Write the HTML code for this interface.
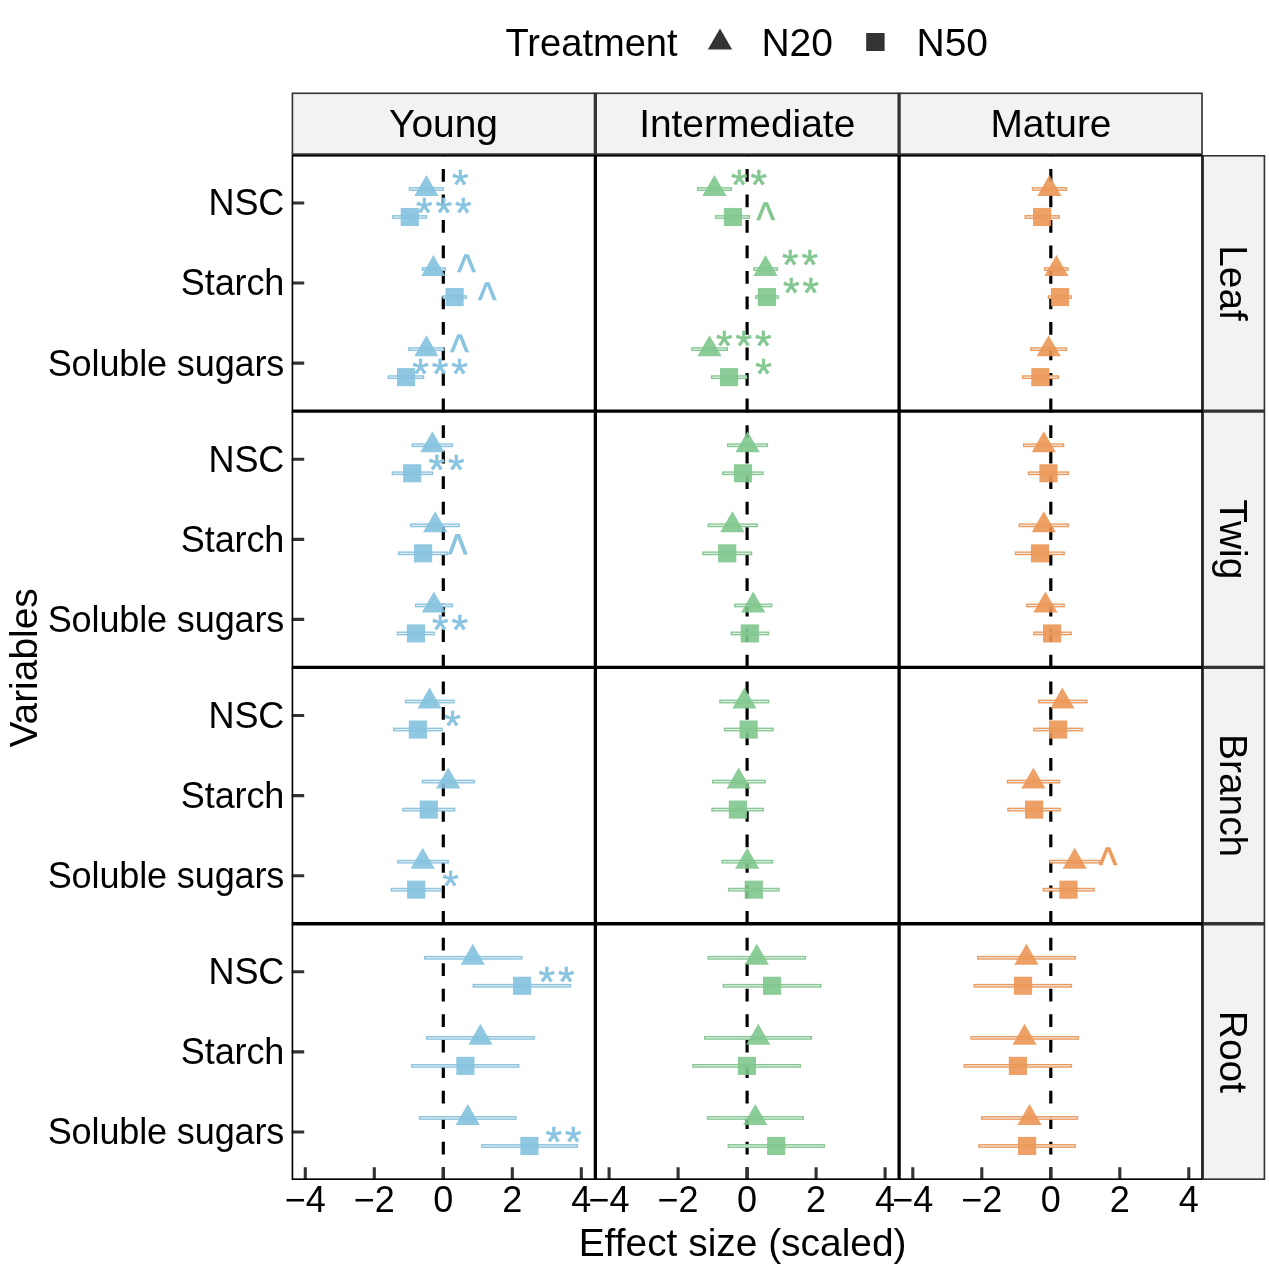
<!DOCTYPE html>
<html lang="en"><head><meta charset="utf-8"><title>Effect size (scaled) by variables</title>
<style>html,body{margin:0;padding:0;background:#fff}body{width:1269px;height:1269px;overflow:hidden}svg{display:block}text{font-family:'Liberation Sans', Arial, sans-serif;fill:#000}</style>
</head><body>
<svg width="1269" height="1269" viewBox="0 0 1269 1269">
<rect x="0" y="0" width="1269" height="1269" fill="#fff"/>
<g id="legend">
<text x="505.5" y="56.1" font-size="38.1">Treatment</text>
<path d="M720 28.4 l12.15 21 h-24.3 z" fill="#333"/>
<text x="761.4" y="56.1" font-size="39">N20</text>
<rect x="866.2" y="33" width="18.4" height="18" fill="#333"/>
<text x="916.5" y="56.1" font-size="39">N50</text>
</g>
<defs>
<clipPath id="stT"><rect x="291.6" y="92.45" width="911.25" height="62.48"/></clipPath>
<clipPath id="stR"><rect x="1202.3" y="154.93" width="62.95" height="1025.07"/></clipPath>
<clipPath id="pnl"><rect x="291.6" y="154.93" width="911.25" height="1025.07"/></clipPath>
</defs>
<g id="strips" fill="#f2f2f2" stroke="#333" stroke-width="3.3">
<g clip-path="url(#stT)">
<rect x="291.6" y="92.45" width="911.25" height="62.48"/>
<line x1="595.35" y1="92.45" x2="595.35" y2="154.93"/>
<line x1="899.1" y1="92.45" x2="899.1" y2="154.93"/>
</g>
<g clip-path="url(#stR)">
<rect x="1202.3" y="154.93" width="62.95" height="1025.07"/>
<line x1="1202.85" y1="411.2" x2="1265.25" y2="411.2"/>
<line x1="1202.85" y1="667.47" x2="1265.25" y2="667.47"/>
<line x1="1202.85" y1="923.73" x2="1265.25" y2="923.73"/>
</g>
</g>
<g id="striptext" font-size="38.9" text-anchor="middle">
<text x="443.48" y="137.4">Young</text>
<text x="747.23" y="137.4">Intermediate</text>
<text x="1050.97" y="137.4">Mature</text>
<text transform="translate(1219.8 283.06) rotate(90)" x="0" y="0">Leaf</text>
<text transform="translate(1219.8 539.34) rotate(90)" x="0" y="0">Twig</text>
<text transform="translate(1219.8 795.6) rotate(90)" x="0" y="0">Branch</text>
<text transform="translate(1219.8 1051.87) rotate(90)" x="0" y="0">Root</text>
</g>
<defs>
<clipPath id="cp00"><rect x="291.6" y="154.93" width="303.75" height="256.27"/></clipPath>
<clipPath id="cp01"><rect x="291.6" y="411.2" width="303.75" height="256.27"/></clipPath>
<clipPath id="cp02"><rect x="291.6" y="667.47" width="303.75" height="256.26"/></clipPath>
<clipPath id="cp03"><rect x="291.6" y="923.73" width="303.75" height="256.27"/></clipPath>
<clipPath id="cp10"><rect x="595.35" y="154.93" width="303.75" height="256.27"/></clipPath>
<clipPath id="cp11"><rect x="595.35" y="411.2" width="303.75" height="256.27"/></clipPath>
<clipPath id="cp12"><rect x="595.35" y="667.47" width="303.75" height="256.26"/></clipPath>
<clipPath id="cp13"><rect x="595.35" y="923.73" width="303.75" height="256.27"/></clipPath>
<clipPath id="cp20"><rect x="899.1" y="154.93" width="303.75" height="256.27"/></clipPath>
<clipPath id="cp21"><rect x="899.1" y="411.2" width="303.75" height="256.27"/></clipPath>
<clipPath id="cp22"><rect x="899.1" y="667.47" width="303.75" height="256.26"/></clipPath>
<clipPath id="cp23"><rect x="899.1" y="923.73" width="303.75" height="256.27"/></clipPath>
</defs>
<g clip-path="url(#cp00)">
<rect x="291.6" y="154.93" width="303.75" height="256.27" fill="#fff"/>
<line x1="443.3" y1="411.2" x2="443.3" y2="154.93" stroke="#000" stroke-width="3.2" stroke-dasharray="12.75 12.75"/>
<g fill="#eeeeee" stroke="#89c4e0" stroke-width="1.35">
<rect x="409.38" y="187.77" width="33.95" height="2.45"/>
<rect x="392.78" y="215.77" width="33.55" height="2.45"/>
<rect x="422.38" y="267.85" width="22.85" height="2.45"/>
<rect x="443.18" y="295.85" width="22.95" height="2.45"/>
<rect x="408.78" y="347.93" width="34.95" height="2.45"/>
<rect x="388.38" y="375.93" width="35.15" height="2.45"/>
</g>
<g fill="#84c2df" fill-opacity="0.9">
<path d="M426.4 174.99 l12.12 21 h-24.24 z"/>
<rect x="400.7" y="207.94" width="18.2" height="18.1"/>
<path d="M433.4 255.07 l12.12 21 h-24.24 z"/>
<rect x="445.5" y="288.02" width="18.2" height="18.1"/>
<path d="M426.4 335.15 l12.12 21 h-24.24 z"/>
<rect x="397" y="368.1" width="18.2" height="18.1"/>
</g>
<g text-anchor="middle" stroke-linejoin="miter">
<text x="460.3" y="199.39" font-size="42.5" style="fill:#89c4e0;stroke:#89c4e0;stroke-width:0.55">*</text>
<text x="424.3 443.8 463.3" y="227.39" font-size="42.5" style="fill:#89c4e0;stroke:#89c4e0;stroke-width:0.55">***</text>
<text transform="translate(466.6 288.12) scale(0.79 0.98)" font-size="50" style="fill:#89c4e0;stroke:#89c4e0;stroke-width:0.7">^</text>
<text transform="translate(487.3 316.12) scale(0.79 0.98)" font-size="50" style="fill:#89c4e0;stroke:#89c4e0;stroke-width:0.7">^</text>
<text transform="translate(459.4 368.2) scale(0.79 0.98)" font-size="50" style="fill:#89c4e0;stroke:#89c4e0;stroke-width:0.7">^</text>
<text x="420.5 440 459.5" y="387.55" font-size="42.5" style="fill:#89c4e0;stroke:#89c4e0;stroke-width:0.55">***</text>
</g>
<line x1="291.6" y1="363.15" x2="304.2" y2="363.15" stroke="#333" stroke-width="3.1"/>
<line x1="291.6" y1="283.07" x2="304.2" y2="283.07" stroke="#333" stroke-width="3.1"/>
<line x1="291.6" y1="202.99" x2="304.2" y2="202.99" stroke="#333" stroke-width="3.1"/>
</g>
<g clip-path="url(#cp01)">
<rect x="291.6" y="411.2" width="303.75" height="256.27" fill="#fff"/>
<line x1="443.3" y1="667.47" x2="443.3" y2="411.2" stroke="#000" stroke-width="3.2" stroke-dasharray="12.75 12.75"/>
<g fill="#eeeeee" stroke="#89c4e0" stroke-width="1.35">
<rect x="412.28" y="444.04" width="40.25" height="2.45"/>
<rect x="392.38" y="472.04" width="40.05" height="2.45"/>
<rect x="410.78" y="524.12" width="48.45" height="2.45"/>
<rect x="398.68" y="552.12" width="48.55" height="2.45"/>
<rect x="415.68" y="604.2" width="36.85" height="2.45"/>
<rect x="397.38" y="632.2" width="36.85" height="2.45"/>
</g>
<g fill="#84c2df" fill-opacity="0.9">
<path d="M432.4 431.26 l12.12 21 h-24.24 z"/>
<rect x="403.1" y="464.21" width="18.2" height="18.1"/>
<path d="M435.2 511.34 l12.12 21 h-24.24 z"/>
<rect x="414" y="544.29" width="18.2" height="18.1"/>
<path d="M433.9 591.42 l12.12 21 h-24.24 z"/>
<rect x="406.9" y="624.37" width="18.2" height="18.1"/>
</g>
<g text-anchor="middle" stroke-linejoin="miter">
<text x="436.65 456.15" y="483.66" font-size="42.5" style="fill:#89c4e0;stroke:#89c4e0;stroke-width:0.55">**</text>
<text transform="translate(457.8 571.59) scale(0.83 1.08)" font-size="50" style="fill:#89c4e0;stroke:#89c4e0;stroke-width:0.7">^</text>
<text x="440.35 459.85" y="643.82" font-size="42.5" style="fill:#89c4e0;stroke:#89c4e0;stroke-width:0.55">**</text>
</g>
<line x1="291.6" y1="619.42" x2="304.2" y2="619.42" stroke="#333" stroke-width="3.1"/>
<line x1="291.6" y1="539.34" x2="304.2" y2="539.34" stroke="#333" stroke-width="3.1"/>
<line x1="291.6" y1="459.26" x2="304.2" y2="459.26" stroke="#333" stroke-width="3.1"/>
</g>
<g clip-path="url(#cp02)">
<rect x="291.6" y="667.47" width="303.75" height="256.26" fill="#fff"/>
<line x1="443.3" y1="923.73" x2="443.3" y2="667.47" stroke="#000" stroke-width="3.2" stroke-dasharray="12.75 12.75"/>
<g fill="#eeeeee" stroke="#89c4e0" stroke-width="1.35">
<rect x="405.58" y="700.3" width="48.45" height="2.45"/>
<rect x="393.68" y="728.3" width="48.55" height="2.45"/>
<rect x="422.38" y="780.38" width="51.85" height="2.45"/>
<rect x="402.88" y="808.38" width="51.85" height="2.45"/>
<rect x="397.78" y="860.46" width="50.35" height="2.45"/>
<rect x="391.28" y="888.46" width="49.95" height="2.45"/>
</g>
<g fill="#84c2df" fill-opacity="0.9">
<path d="M429.6 687.52 l12.12 21 h-24.24 z"/>
<rect x="408.8" y="720.47" width="18.2" height="18.1"/>
<path d="M448.2 767.6 l12.12 21 h-24.24 z"/>
<rect x="419.7" y="800.55" width="18.2" height="18.1"/>
<path d="M422.7 847.68 l12.12 21 h-24.24 z"/>
<rect x="407.1" y="880.63" width="18.2" height="18.1"/>
</g>
<g text-anchor="middle" stroke-linejoin="miter">
<text x="452.4" y="739.92" font-size="42.5" style="fill:#89c4e0;stroke:#89c4e0;stroke-width:0.55">*</text>
<text x="450.4" y="900.08" font-size="42.5" style="fill:#89c4e0;stroke:#89c4e0;stroke-width:0.55">*</text>
</g>
<line x1="291.6" y1="875.68" x2="304.2" y2="875.68" stroke="#333" stroke-width="3.1"/>
<line x1="291.6" y1="795.6" x2="304.2" y2="795.6" stroke="#333" stroke-width="3.1"/>
<line x1="291.6" y1="715.52" x2="304.2" y2="715.52" stroke="#333" stroke-width="3.1"/>
</g>
<g clip-path="url(#cp03)">
<rect x="291.6" y="923.73" width="303.75" height="256.27" fill="#fff"/>
<line x1="443.3" y1="1180" x2="443.3" y2="923.73" stroke="#000" stroke-width="3.2" stroke-dasharray="12.75 12.75"/>
<g fill="#eeeeee" stroke="#89c4e0" stroke-width="1.35">
<rect x="424.68" y="956.57" width="97.15" height="2.45"/>
<rect x="473.18" y="984.57" width="97.15" height="2.45"/>
<rect x="426.68" y="1036.65" width="107.45" height="2.45"/>
<rect x="411.68" y="1064.65" width="107.15" height="2.45"/>
<rect x="419.58" y="1116.73" width="96.35" height="2.45"/>
<rect x="481.58" y="1144.73" width="95.85" height="2.45"/>
</g>
<g fill="#84c2df" fill-opacity="0.9">
<path d="M472.8 943.79 l12.12 21 h-24.24 z"/>
<rect x="513" y="976.74" width="18.2" height="18.1"/>
<path d="M480.4 1023.87 l12.12 21 h-24.24 z"/>
<rect x="456.3" y="1056.82" width="18.2" height="18.1"/>
<path d="M467.8 1103.95 l12.12 21 h-24.24 z"/>
<rect x="520.3" y="1136.9" width="18.2" height="18.1"/>
</g>
<g text-anchor="middle" stroke-linejoin="miter">
<text x="546.65 566.15" y="996.19" font-size="42.5" style="fill:#89c4e0;stroke:#89c4e0;stroke-width:0.55">**</text>
<text x="553.65 573.15" y="1156.35" font-size="42.5" style="fill:#89c4e0;stroke:#89c4e0;stroke-width:0.55">**</text>
</g>
<line x1="305.3" y1="1180" x2="305.3" y2="1167.3" stroke="#333" stroke-width="3.1"/>
<line x1="374.3" y1="1180" x2="374.3" y2="1167.3" stroke="#333" stroke-width="3.1"/>
<line x1="443.3" y1="1180" x2="443.3" y2="1167.3" stroke="#333" stroke-width="3.1"/>
<line x1="512.3" y1="1180" x2="512.3" y2="1167.3" stroke="#333" stroke-width="3.1"/>
<line x1="581.3" y1="1180" x2="581.3" y2="1167.3" stroke="#333" stroke-width="3.1"/>
<line x1="291.6" y1="1131.95" x2="304.2" y2="1131.95" stroke="#333" stroke-width="3.1"/>
<line x1="291.6" y1="1051.87" x2="304.2" y2="1051.87" stroke="#333" stroke-width="3.1"/>
<line x1="291.6" y1="971.79" x2="304.2" y2="971.79" stroke="#333" stroke-width="3.1"/>
</g>
<g clip-path="url(#cp10)">
<rect x="595.35" y="154.93" width="303.75" height="256.27" fill="#fff"/>
<line x1="747.1" y1="411.2" x2="747.1" y2="154.93" stroke="#000" stroke-width="3.2" stroke-dasharray="12.75 12.75"/>
<g fill="#eeeeee" stroke="#84c891" stroke-width="1.35">
<rect x="697.58" y="187.77" width="33.75" height="2.45"/>
<rect x="715.68" y="215.77" width="33.75" height="2.45"/>
<rect x="753.88" y="267.85" width="23.55" height="2.45"/>
<rect x="755.78" y="295.85" width="22.35" height="2.45"/>
<rect x="691.88" y="347.93" width="35.45" height="2.45"/>
<rect x="711.68" y="375.93" width="34.85" height="2.45"/>
</g>
<g fill="#7fc68d" fill-opacity="0.9">
<path d="M714.4 174.99 l12.12 21 h-24.24 z"/>
<rect x="723.8" y="207.94" width="18.2" height="18.1"/>
<path d="M765.5 255.07 l12.12 21 h-24.24 z"/>
<rect x="757.8" y="288.02" width="18.2" height="18.1"/>
<path d="M709.5 335.15 l12.12 21 h-24.24 z"/>
<rect x="720" y="368.1" width="18.2" height="18.1"/>
</g>
<g text-anchor="middle" stroke-linejoin="miter">
<text x="739.15 758.65" y="199.39" font-size="42.5" style="fill:#84c891;stroke:#84c891;stroke-width:0.55">**</text>
<text transform="translate(765.7 236.04) scale(0.79 0.98)" font-size="50" style="fill:#84c891;stroke:#84c891;stroke-width:0.7">^</text>
<text x="790.35 809.85" y="279.47" font-size="42.5" style="fill:#84c891;stroke:#84c891;stroke-width:0.55">**</text>
<text x="791.25 810.75" y="307.47" font-size="42.5" style="fill:#84c891;stroke:#84c891;stroke-width:0.55">**</text>
<text x="724.3 743.8 763.3" y="359.55" font-size="42.5" style="fill:#84c891;stroke:#84c891;stroke-width:0.55">***</text>
<text x="763.5" y="387.55" font-size="42.5" style="fill:#84c891;stroke:#84c891;stroke-width:0.55">*</text>
</g>
</g>
<g clip-path="url(#cp11)">
<rect x="595.35" y="411.2" width="303.75" height="256.27" fill="#fff"/>
<line x1="747.1" y1="667.47" x2="747.1" y2="411.2" stroke="#000" stroke-width="3.2" stroke-dasharray="12.75 12.75"/>
<g fill="#eeeeee" stroke="#84c891" stroke-width="1.35">
<rect x="727.68" y="444.04" width="39.75" height="2.45"/>
<rect x="722.78" y="472.04" width="40.15" height="2.45"/>
<rect x="708.28" y="524.12" width="48.95" height="2.45"/>
<rect x="702.88" y="552.12" width="48.75" height="2.45"/>
<rect x="734.78" y="604.2" width="36.95" height="2.45"/>
<rect x="731.18" y="632.2" width="37.15" height="2.45"/>
</g>
<g fill="#7fc68d" fill-opacity="0.9">
<path d="M747.6 431.26 l12.12 21 h-24.24 z"/>
<rect x="733.9" y="464.21" width="18.2" height="18.1"/>
<path d="M732.4 511.34 l12.12 21 h-24.24 z"/>
<rect x="718.1" y="544.29" width="18.2" height="18.1"/>
<path d="M753.2 591.42 l12.12 21 h-24.24 z"/>
<rect x="740.7" y="624.37" width="18.2" height="18.1"/>
</g>
</g>
<g clip-path="url(#cp12)">
<rect x="595.35" y="667.47" width="303.75" height="256.26" fill="#fff"/>
<line x1="747.1" y1="923.73" x2="747.1" y2="667.47" stroke="#000" stroke-width="3.2" stroke-dasharray="12.75 12.75"/>
<g fill="#eeeeee" stroke="#84c891" stroke-width="1.35">
<rect x="719.88" y="700.3" width="48.65" height="2.45"/>
<rect x="724.48" y="728.3" width="48.55" height="2.45"/>
<rect x="712.68" y="780.38" width="52.45" height="2.45"/>
<rect x="711.88" y="808.38" width="51.35" height="2.45"/>
<rect x="722.18" y="860.46" width="50.35" height="2.45"/>
<rect x="728.68" y="888.46" width="50.35" height="2.45"/>
</g>
<g fill="#7fc68d" fill-opacity="0.9">
<path d="M744.4 687.52 l12.12 21 h-24.24 z"/>
<rect x="739.5" y="720.47" width="18.2" height="18.1"/>
<path d="M738.7 767.6 l12.12 21 h-24.24 z"/>
<rect x="728.8" y="800.55" width="18.2" height="18.1"/>
<path d="M747.2 847.68 l12.12 21 h-24.24 z"/>
<rect x="744.7" y="880.63" width="18.2" height="18.1"/>
</g>
</g>
<g clip-path="url(#cp13)">
<rect x="595.35" y="923.73" width="303.75" height="256.27" fill="#fff"/>
<line x1="747.1" y1="1180" x2="747.1" y2="923.73" stroke="#000" stroke-width="3.2" stroke-dasharray="12.75 12.75"/>
<g fill="#eeeeee" stroke="#84c891" stroke-width="1.35">
<rect x="708.28" y="956.57" width="97.15" height="2.45"/>
<rect x="723.28" y="984.57" width="97.55" height="2.45"/>
<rect x="704.68" y="1036.65" width="106.75" height="2.45"/>
<rect x="692.98" y="1064.65" width="107.35" height="2.45"/>
<rect x="707.48" y="1116.73" width="95.85" height="2.45"/>
<rect x="728.28" y="1144.73" width="96.05" height="2.45"/>
</g>
<g fill="#7fc68d" fill-opacity="0.9">
<path d="M756.8 943.79 l12.12 21 h-24.24 z"/>
<rect x="763" y="976.74" width="18.2" height="18.1"/>
<path d="M758.3 1023.87 l12.12 21 h-24.24 z"/>
<rect x="737.8" y="1056.82" width="18.2" height="18.1"/>
<path d="M755.3 1103.95 l12.12 21 h-24.24 z"/>
<rect x="767.1" y="1136.9" width="18.2" height="18.1"/>
</g>
<line x1="609.1" y1="1180" x2="609.1" y2="1167.3" stroke="#333" stroke-width="3.1"/>
<line x1="678.1" y1="1180" x2="678.1" y2="1167.3" stroke="#333" stroke-width="3.1"/>
<line x1="747.1" y1="1180" x2="747.1" y2="1167.3" stroke="#333" stroke-width="3.1"/>
<line x1="816.1" y1="1180" x2="816.1" y2="1167.3" stroke="#333" stroke-width="3.1"/>
<line x1="885.1" y1="1180" x2="885.1" y2="1167.3" stroke="#333" stroke-width="3.1"/>
</g>
<g clip-path="url(#cp20)">
<rect x="899.1" y="154.93" width="303.75" height="256.27" fill="#fff"/>
<line x1="1050.8" y1="411.2" x2="1050.8" y2="154.93" stroke="#000" stroke-width="3.2" stroke-dasharray="12.75 12.75"/>
<g fill="#eeeeee" stroke="#ec9b5d" stroke-width="1.35">
<rect x="1032.48" y="187.77" width="33.95" height="2.45"/>
<rect x="1025.18" y="215.77" width="34.05" height="2.45"/>
<rect x="1044.68" y="267.85" width="23.25" height="2.45"/>
<rect x="1048.28" y="295.85" width="22.95" height="2.45"/>
<rect x="1030.88" y="347.93" width="35.55" height="2.45"/>
<rect x="1022.68" y="375.93" width="35.65" height="2.45"/>
</g>
<g fill="#eb9756" fill-opacity="0.9">
<path d="M1049.4 174.99 l12.12 21 h-24.24 z"/>
<rect x="1033" y="207.94" width="18.2" height="18.1"/>
<path d="M1056.4 255.07 l12.12 21 h-24.24 z"/>
<rect x="1050.9" y="288.02" width="18.2" height="18.1"/>
<path d="M1048.6 335.15 l12.12 21 h-24.24 z"/>
<rect x="1031.3" y="368.1" width="18.2" height="18.1"/>
</g>
</g>
<g clip-path="url(#cp21)">
<rect x="899.1" y="411.2" width="303.75" height="256.27" fill="#fff"/>
<line x1="1050.8" y1="667.47" x2="1050.8" y2="411.2" stroke="#000" stroke-width="3.2" stroke-dasharray="12.75 12.75"/>
<g fill="#eeeeee" stroke="#ec9b5d" stroke-width="1.35">
<rect x="1023.68" y="444.04" width="39.95" height="2.45"/>
<rect x="1028.48" y="472.04" width="39.85" height="2.45"/>
<rect x="1019.18" y="524.12" width="49.15" height="2.45"/>
<rect x="1015.48" y="552.12" width="48.65" height="2.45"/>
<rect x="1026.78" y="604.2" width="37.35" height="2.45"/>
<rect x="1033.78" y="632.2" width="37.35" height="2.45"/>
</g>
<g fill="#eb9756" fill-opacity="0.9">
<path d="M1043.8 431.26 l12.12 21 h-24.24 z"/>
<rect x="1039.4" y="464.21" width="18.2" height="18.1"/>
<path d="M1043.8 511.34 l12.12 21 h-24.24 z"/>
<rect x="1030.9" y="544.29" width="18.2" height="18.1"/>
<path d="M1045.4 591.42 l12.12 21 h-24.24 z"/>
<rect x="1043" y="624.37" width="18.2" height="18.1"/>
</g>
</g>
<g clip-path="url(#cp22)">
<rect x="899.1" y="667.47" width="303.75" height="256.26" fill="#fff"/>
<line x1="1050.8" y1="923.73" x2="1050.8" y2="667.47" stroke="#000" stroke-width="3.2" stroke-dasharray="12.75 12.75"/>
<g fill="#eeeeee" stroke="#ec9b5d" stroke-width="1.35">
<rect x="1038.78" y="700.3" width="48.05" height="2.45"/>
<rect x="1033.78" y="728.3" width="48.45" height="2.45"/>
<rect x="1007.48" y="780.38" width="52.05" height="2.45"/>
<rect x="1007.88" y="808.38" width="52.25" height="2.45"/>
<rect x="1049.78" y="860.46" width="50.35" height="2.45"/>
<rect x="1043.18" y="888.46" width="50.95" height="2.45"/>
</g>
<g fill="#eb9756" fill-opacity="0.9">
<path d="M1062.4 687.52 l12.12 21 h-24.24 z"/>
<rect x="1049" y="720.47" width="18.2" height="18.1"/>
<path d="M1033.4 767.6 l12.12 21 h-24.24 z"/>
<rect x="1025" y="800.55" width="18.2" height="18.1"/>
<path d="M1074.7 847.68 l12.12 21 h-24.24 z"/>
<rect x="1059.4" y="880.63" width="18.2" height="18.1"/>
</g>
<g text-anchor="middle" stroke-linejoin="miter">
<text transform="translate(1108 880.73) scale(0.79 0.98)" font-size="50" style="fill:#ec9b5d;stroke:#ec9b5d;stroke-width:0.7">^</text>
</g>
</g>
<g clip-path="url(#cp23)">
<rect x="899.1" y="923.73" width="303.75" height="256.27" fill="#fff"/>
<line x1="1050.8" y1="1180" x2="1050.8" y2="923.73" stroke="#000" stroke-width="3.2" stroke-dasharray="12.75 12.75"/>
<g fill="#eeeeee" stroke="#ec9b5d" stroke-width="1.35">
<rect x="977.68" y="956.57" width="97.55" height="2.45"/>
<rect x="974.08" y="984.57" width="97.35" height="2.45"/>
<rect x="971.08" y="1036.65" width="107.25" height="2.45"/>
<rect x="964.28" y="1064.65" width="107.15" height="2.45"/>
<rect x="981.68" y="1116.73" width="95.85" height="2.45"/>
<rect x="978.98" y="1144.73" width="96.25" height="2.45"/>
</g>
<g fill="#eb9756" fill-opacity="0.9">
<path d="M1026.4 943.79 l12.12 21 h-24.24 z"/>
<rect x="1013.9" y="976.74" width="18.2" height="18.1"/>
<path d="M1024.6 1023.87 l12.12 21 h-24.24 z"/>
<rect x="1008.8" y="1056.82" width="18.2" height="18.1"/>
<path d="M1029.5 1103.95 l12.12 21 h-24.24 z"/>
<rect x="1018" y="1136.9" width="18.2" height="18.1"/>
</g>
<line x1="912.8" y1="1180" x2="912.8" y2="1167.3" stroke="#333" stroke-width="3.1"/>
<line x1="981.8" y1="1180" x2="981.8" y2="1167.3" stroke="#333" stroke-width="3.1"/>
<line x1="1050.8" y1="1180" x2="1050.8" y2="1167.3" stroke="#333" stroke-width="3.1"/>
<line x1="1119.8" y1="1180" x2="1119.8" y2="1167.3" stroke="#333" stroke-width="3.1"/>
<line x1="1188.8" y1="1180" x2="1188.8" y2="1167.3" stroke="#333" stroke-width="3.1"/>
</g>
<g id="borders" clip-path="url(#pnl)" fill="none" stroke="#000" stroke-width="3.3">
<rect x="291.6" y="154.93" width="911.25" height="1025.07"/>
<line x1="595.35" y1="154.93" x2="595.35" y2="1180"/>
<line x1="899.1" y1="154.93" x2="899.1" y2="1180"/>
<line x1="291.6" y1="411.2" x2="1202.85" y2="411.2"/>
<line x1="291.6" y1="667.47" x2="1202.85" y2="667.47"/>
<line x1="291.6" y1="923.73" x2="1202.85" y2="923.73"/>
</g>
<g id="xaxis" font-size="36" text-anchor="middle">
<text x="305.3" y="1211.8">−4</text>
<text x="374.3" y="1211.8">−2</text>
<text x="443.3" y="1211.8">0</text>
<text x="512.3" y="1211.8">2</text>
<text x="581.3" y="1211.8">4</text>
<text x="609.1" y="1211.8">−4</text>
<text x="678.1" y="1211.8">−2</text>
<text x="747.1" y="1211.8">0</text>
<text x="816.1" y="1211.8">2</text>
<text x="885.1" y="1211.8">4</text>
<text x="912.8" y="1211.8">−4</text>
<text x="981.8" y="1211.8">−2</text>
<text x="1050.8" y="1211.8">0</text>
<text x="1119.8" y="1211.8">2</text>
<text x="1188.8" y="1211.8">4</text>
</g>
<g id="yaxis" font-size="36" text-anchor="end" letter-spacing="-0.12">
<text x="284.2" y="375.55">Soluble sugars</text>
<text x="284.2" y="295.47">Starch</text>
<text x="284.2" y="215.39">NSC</text>
<text x="284.2" y="631.82">Soluble sugars</text>
<text x="284.2" y="551.74">Starch</text>
<text x="284.2" y="471.66">NSC</text>
<text x="284.2" y="888.08">Soluble sugars</text>
<text x="284.2" y="808">Starch</text>
<text x="284.2" y="727.92">NSC</text>
<text x="284.2" y="1144.35">Soluble sugars</text>
<text x="284.2" y="1064.27">Starch</text>
<text x="284.2" y="984.19">NSC</text>
</g>
<text x="742.6" y="1256.1" font-size="38.9" text-anchor="middle">Effect size (scaled)</text>
<text transform="translate(36.7 667.9) rotate(-90)" font-size="38.9" text-anchor="middle">Variables</text>
</svg>
</body></html>
